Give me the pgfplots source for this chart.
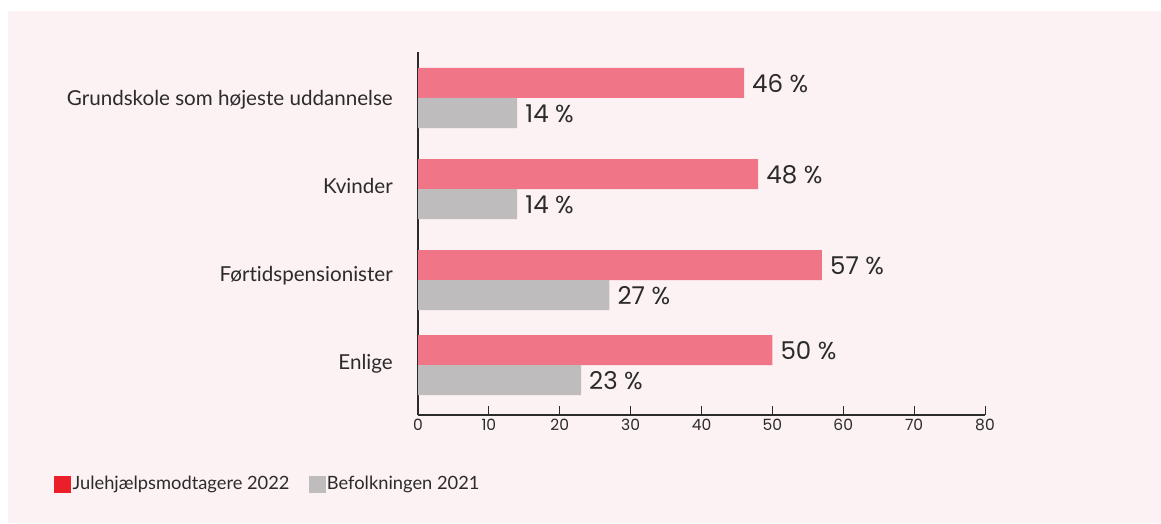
\documentclass[border=0pt]{standalone}
\usepackage{pgfplots}
\pgfplotsset{compat=1.18}
\usepackage{fontspec}
\setmainfont{Poppins}
\newfontfamily\catfont[Ligatures={NoCommon}]{Lato}
\definecolor{bg}{HTML}{FCF1F3}
\definecolor{barpink}{HTML}{F07587}
\definecolor{bargrey}{HTML}{BEBCBD}
\definecolor{legred}{HTML}{EB1F2A}
\definecolor{txt}{HTML}{2B2B2B}
\pgfplotstableread{
pos val
317 46
226 48
135 57
50 50
}\julehjaelp
\pgfplotstableread{
pos val
317 14
226 14
135 27
50 23
}\befolkning
\begin{document}
\begin{tikzpicture}[x=1pt,y=1pt]
\fill[white] (0,0) rectangle (1161,523);
\fill[bg] (8,0) rectangle (1161,512);
\begin{axis}[
  at={(418pt,108pt)}, anchor=south west,
  scale only axis, width=567pt, height=363pt,
  xmin=0, xmax=80, ymin=0, ymax=363,
  axis lines*=left,
  axis line style={draw=txt, line width=1.1pt},
  /pgf/number format/assume math mode=true,
  xtick={0,10,...,80},
  tick align=inside,
  major tick length=9pt,
  xtick style={draw=txt, line width=0.9pt},
  xticklabel style={font=\fontsize{15.5}{18}\selectfont, text=txt, yshift=-1pt},
  ytick={309,222,134,46},
  yticklabels={Grundskole som højeste uddannelse, Kvinder, Førtidspensionister, Enlige},
  ytick style={draw=none},
  yticklabel style={font=\catfont\fontsize{20.6}{25}\selectfont, text=txt, anchor=base east, xshift=-16pt, inner sep=0pt},
  xbar, bar width=30,
  nodes near coords={\pgfmathprintnumber{\pgfplotspointmeta}~\%},
  point meta=x,
  every node near coord/.append style={font=\fontsize{24.5}{29}\selectfont, text=txt, anchor=west, inner xsep=0pt, xshift=8pt, yshift=-1pt},
  legend style={at={(-0.642,-0.19)}, anchor=west, draw=none, fill=none, inner sep=0pt,
    font=\catfont\fontsize{18.3}{22}\selectfont, text=txt,
    nodes={inner xsep=2pt, inner ysep=0pt}},
  legend columns=2,
  /tikz/every even column/.append style={column sep=17pt},
  legend image code/.code={\fill[#1] (0pt,-8pt) rectangle (16pt,8pt);},
  clip=false,
]
\addplot[fill=barpink, draw=none, bar shift=15, forget plot] table[x=val, y=pos] {\julehjaelp};
\addplot[fill=bargrey, draw=none, bar shift=-15, forget plot] table[x=val, y=pos] {\befolkning};
\addlegendimage{legred}
\addlegendentry{Julehjælpsmodtagere 2022}
\addlegendimage{bargrey}
\addlegendentry{Befolkningen 2021}
\end{axis}
\pgfresetboundingbox
\path (0,0) rectangle (1161,523);
\end{tikzpicture}
\end{document}
